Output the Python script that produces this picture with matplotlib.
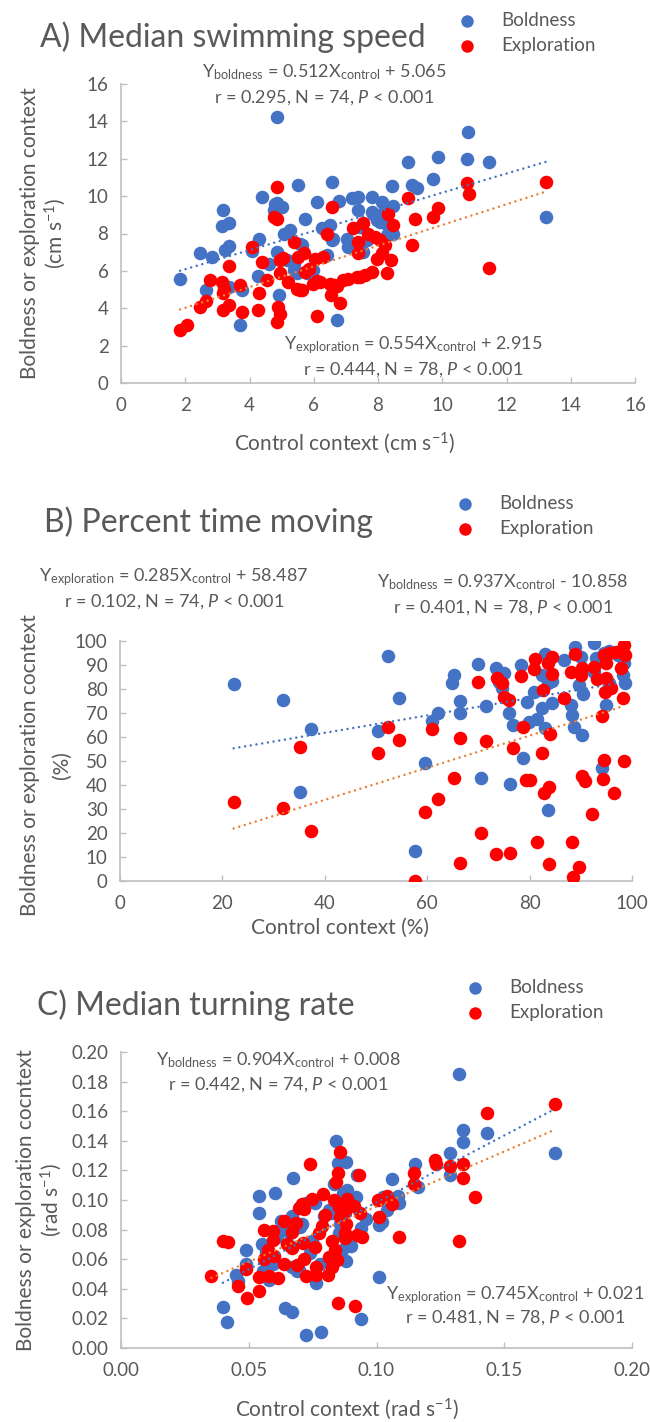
import matplotlib
matplotlib.use("Agg")
import matplotlib.pyplot as plt
import numpy as np

plt.rcParams['font.family'] = ['Lato', 'DejaVu Sans']
plt.rcParams['font.weight'] = 'normal'
plt.rcParams['mathtext.fontset'] = 'custom'
plt.rcParams['mathtext.rm'] = 'Lato'
plt.rcParams['mathtext.it'] = 'Lato:italic'

# ---------------- Panel A data: median swimming speed (cm s-1) ----------------
A_bold_x = [1.84, 2.47, 2.83, 2.65, 3.19, 3.14, 3.35, 3.24, 3.35, 3.35, 3.71, 3.76, 4.09, 4.29, 4.25,
            4.38, 4.62, 4.85, 4.80, 5.00, 4.75, 4.85, 4.92, 5.06, 5.26, 5.16, 5.37, 5.47, 5.50, 5.63,
            5.73, 5.99, 6.09, 6.25, 6.51, 6.58, 6.61, 6.72, 6.79, 6.40, 7.03, 7.08, 7.18, 7.39, 7.39,
            7.54, 7.65, 7.80, 7.80, 7.96, 8.11, 8.22, 8.27, 8.43, 8.48, 8.94, 9.05, 9.20, 9.72, 9.88,
            10.76, 10.81, 11.46, 13.24, 7.44, 8.16, 5.58, 5.78, 6.56, 7.85, 4.85, 8.06, 5.37, 8.48]
A_bold_y = [5.55, 6.96, 6.75, 4.96, 9.25, 8.41, 8.54, 7.11, 7.32, 5.14, 3.13, 4.96, 7.07, 7.70, 5.71,
            9.93, 6.36, 14.25, 9.57, 9.43, 9.25, 7.02, 4.73, 8.00, 8.18, 6.57, 6.39, 5.86, 10.59, 7.38,
            8.77, 6.04, 9.71, 8.27, 8.45, 10.77, 7.70, 3.36, 9.75, 6.84, 7.70, 7.29, 9.88, 9.93, 9.25,
            7.02, 7.64, 9.93, 9.16, 8.71, 9.70, 8.54, 7.91, 10.54, 9.48, 11.84, 10.59, 10.45, 10.89, 12.07,
            11.98, 13.43, 11.84, 8.89, 8.36, 9.09, 7.46, 5.86, 7.64, 9.07, 9.61, 8.63, 6.04, 8.00]
A_expl_x = [1.84, 2.07, 2.47, 2.65, 2.78, 3.14, 3.19, 3.21, 3.19, 3.35, 3.35, 3.71, 3.76, 4.09, 4.29,
            4.28, 4.38, 4.56, 4.75, 4.85, 4.85, 4.90, 4.85, 4.95, 4.95, 5.04, 4.95, 5.21, 5.37, 5.47,
            5.52, 5.63, 5.70, 5.73, 5.99, 6.04, 6.09, 6.20, 6.30, 6.40, 6.51, 6.53, 6.58, 6.72, 6.82,
            6.92, 7.08, 7.23, 7.34, 7.39, 7.39, 7.54, 7.70, 7.80, 7.91, 7.96, 8.11, 8.22, 8.27, 8.32,
            8.42, 8.48, 8.94, 9.05, 9.15, 9.72, 9.88, 10.76, 10.83, 11.46, 13.24, 8.06, 7.44, 5.58,
            6.62, 7.60, 6.10, 5.85]
A_expl_y = [2.82, 3.09, 4.07, 4.39, 5.50, 5.41, 4.79, 5.05, 3.89, 6.25, 4.16, 5.23, 3.80, 7.29, 4.79,
            3.93, 6.48, 5.50, 8.89, 10.50, 8.80, 4.07, 3.27, 3.71, 6.57, 6.71, 5.86, 5.41, 7.55, 5.05,
            6.75, 4.96, 6.96, 5.95, 5.32, 6.66, 3.57, 5.41, 6.75, 7.96, 5.32, 4.70, 9.43, 5.18, 4.29,
            5.50, 5.59, 8.27, 5.68, 7.55, 6.96, 8.54, 8.00, 5.95, 7.82, 6.61, 6.93, 7.38, 5.86, 9.04,
            6.57, 8.45, 9.88, 7.38, 8.77, 8.89, 9.34, 10.71, 10.09, 6.18, 10.77, 7.64, 5.68, 4.96,
            5.25, 5.80, 5.45, 6.10]

# ---------------- Panel B data: percent time moving (%) ----------------
B_bold_x = [22.2, 31.8, 37.3, 35.2, 52.3, 54.5, 50.3, 59.6, 57.6, 61.0, 62.2, 65.3, 64.9, 66.5, 66.5,
            70.0, 70.6, 71.5, 73.5, 74.0, 75.0, 74.7, 75.9, 76.7, 76.2, 78.3, 78.8, 79.5, 79.8, 80.8,
            81.5, 82.5, 82.4, 83.1, 83.6, 84.3, 83.6, 83.1, 84.4, 86.7, 88.0, 88.2, 88.7, 88.9, 90.1,
            89.6, 90.4, 90.3, 92.5, 93.0, 94.5, 95.6, 94.9, 94.2, 98.5, 98.3, 98.6, 97.3, 92.5, 95.6]
B_bold_y = [82.1, 75.3, 63.2, 37.2, 93.9, 76.4, 62.5, 49.2, 12.5, 66.8, 70.1, 85.8, 82.4, 75.1, 69.9,
            90.3, 43.1, 73.1, 88.9, 83.1, 86.5, 80.3, 70.1, 65.0, 40.3, 90.0, 51.1, 74.7, 66.1, 78.9,
            67.4, 72.2, 85.8, 94.4, 82.6, 74.0, 29.6, 63.6, 83.3, 92.1, 73.3, 69.2, 64.3, 97.6, 93.5,
            81.7, 77.8, 60.8, 99.3, 93.1, 94.9, 95.8, 73.3, 46.9, 90.7, 85.8, 82.4, 94.2, 87.2, 82.4]
B_expl_x = [22.2, 31.8, 35.2, 37.3, 50.3, 52.3, 54.5, 57.6, 59.6, 61.0, 62.2, 65.3, 66.5, 66.5, 70.0,
            70.6, 71.5, 73.5, 73.7, 74.7, 75.0, 75.9, 76.2, 76.7, 78.3, 78.8, 79.3, 80.0, 80.8, 81.0,
            81.4, 82.4, 82.6, 82.8, 83.7, 83.7, 83.6, 84.3, 84.3, 83.9, 86.7, 88.0, 88.2, 88.5, 88.9,
            89.7, 90.1, 90.3, 90.3, 90.8, 92.1, 92.5, 93.2, 94.2, 94.5, 94.5, 94.4, 94.7, 94.9, 94.9,
            95.9, 96.4, 96.9, 97.9, 98.2, 98.5, 98.5, 98.6, 95.6]
B_expl_y = [33.1, 30.6, 56.0, 20.8, 53.5, 64.3, 58.8, 0.0, 28.6, 63.3, 34.0, 42.8, 7.6, 59.7, 82.8,
            19.9, 58.5, 11.3, 84.4, 82.4, 76.8, 75.4, 11.8, 55.3, 85.4, 64.0, 42.1, 42.1, 88.2, 92.5,
            16.1, 53.2, 79.6, 36.5, 39.0, 7.1, 90.7, 93.2, 86.3, 61.1, 76.1, 86.9, 16.4, 1.5, 94.6,
            6.0, 85.8, 88.6, 43.9, 41.7, 27.8, 89.3, 84.2, 68.8, 94.2, 50.4, 42.5, 78.6, 84.4, 90.7,
            80.3, 36.5, 95.6, 88.6, 76.1, 50.0, 98.3, 94.2, 94.9]

# ---------------- Panel C data: median turning rate (rad s-1) ----------------
C_bold_x = [0.1323, 0.170, 0.1433, 0.134, 0.1338, 0.1286, 0.1286, 0.115, 0.1163, 0.106, 0.109, 0.1027,
            0.104, 0.1008, 0.1008, 0.0842, 0.085, 0.088, 0.0924, 0.0885, 0.0920, 0.0833, 0.0675, 0.0602,
            0.0541, 0.0539, 0.0671, 0.071, 0.0749, 0.0794, 0.0813, 0.0852, 0.0865, 0.088, 0.094, 0.049,
            0.049, 0.0457, 0.0567, 0.0593, 0.058, 0.0671, 0.0697, 0.0764, 0.0399, 0.0414, 0.0641, 0.0671,
            0.0725, 0.0781, 0.0939, 0.0723, 0.076, 0.0826, 0.0858, 0.1083, 0.0625, 0.0660, 0.0700,
            0.0660, 0.0550, 0.0580, 0.0740, 0.0450, 0.0610, 0.0640, 0.0900, 0.0700, 0.0780, 0.0690,
            0.0555, 0.0870, 0.0960, 0.1020]
C_bold_y = [0.185, 0.132, 0.145, 0.147, 0.139, 0.1315, 0.117, 0.124, 0.109, 0.114, 0.098, 0.102,
            0.093, 0.083, 0.048, 0.140, 0.125, 0.126, 0.117, 0.107, 0.102, 0.111, 0.115, 0.105,
            0.103, 0.091, 0.089, 0.084, 0.072, 0.089, 0.093, 0.0775, 0.066, 0.059, 0.081, 0.066,
            0.057, 0.045, 0.065, 0.057, 0.046, 0.055, 0.053, 0.044, 0.028, 0.0175, 0.027, 0.024,
            0.009, 0.011, 0.0195, 0.098, 0.098, 0.091, 0.084, 0.103, 0.086, 0.078, 0.082,
            0.069, 0.070, 0.062, 0.064, 0.049, 0.075, 0.080, 0.069, 0.095, 0.057, 0.052,
            0.052, 0.105, 0.087, 0.085]
C_expl_x = [0.170, 0.1433, 0.1228, 0.1234, 0.1286, 0.134, 0.1338, 0.1386, 0.1323, 0.1148, 0.1148, 0.1088,
            0.1005, 0.104, 0.106, 0.1008, 0.0937, 0.093, 0.0924, 0.0943, 0.0885, 0.0878, 0.0878, 0.0878,
            0.0859, 0.085, 0.0842, 0.0833, 0.0826, 0.0839, 0.0846, 0.0826, 0.0811, 0.085, 0.0914, 0.0738,
            0.079, 0.0749, 0.071, 0.0717, 0.0639, 0.0684, 0.0668, 0.0785, 0.0775, 0.0712, 0.0671, 0.0561,
            0.0593, 0.0593, 0.0574, 0.0639, 0.0717, 0.0723, 0.0762, 0.0764, 0.0539, 0.058, 0.0613,
            0.049, 0.0457, 0.0493, 0.0541, 0.0354, 0.0399, 0.0418, 0.0852, 0.0859, 0.0813, 0.0697,
            0.0650, 0.0600, 0.0760, 0.0800, 0.0560, 0.0690, 0.0880, 0.0910]
C_expl_y = [0.1647, 0.159, 0.127, 0.124, 0.123, 0.124, 0.1146, 0.102, 0.0726, 0.118, 0.111, 0.075,
            0.100, 0.1027, 0.097, 0.0888, 0.0915, 0.117, 0.0764, 0.075, 0.101, 0.092, 0.0775, 0.0746,
            0.1326, 0.118, 0.112, 0.100, 0.072, 0.0663, 0.0596, 0.055, 0.0494, 0.0303, 0.0285, 0.124,
            0.1038, 0.101, 0.0973, 0.0937, 0.086, 0.0843, 0.0787, 0.0827, 0.0775, 0.0712, 0.0674, 0.0798,
            0.0793, 0.073, 0.0663, 0.0569, 0.060, 0.0488, 0.0546, 0.0494, 0.0479, 0.0488, 0.0472,
            0.0533, 0.042, 0.0337, 0.0387, 0.0488, 0.0726, 0.0715, 0.0955, 0.0888, 0.0618, 0.0944,
            0.0700, 0.0620, 0.0680, 0.0900, 0.0600, 0.0560, 0.0840, 0.0960]

# trend line coefficients (slope, intercept): [boldness, exploration]
A_trend = [(0.512, 5.065), (0.554, 2.915)]
B_trend = [(0.362, 47.26), (0.669, 7.05)]
C_trend = [(0.904, 0.008), (0.745, 0.021)]

# annotation texts
A_eq_bold = [r"Y$_{\mathrm{boldness}}$ = 0.512X$_{\mathrm{control}}$ + 5.065", r"r = 0.295, N = 74, $\mathit{P}$ < 0.001"]
A_eq_expl = [r"Y$_{\mathrm{exploration}}$ = 0.554X$_{\mathrm{control}}$ + 2.915", r"r = 0.444, N = 78, $\mathit{P}$ < 0.001"]
B_eq_expl = [r"Y$_{\mathrm{exploration}}$ = 0.285X$_{\mathrm{control}}$ + 58.487", r"r = 0.102, N = 74, $\mathit{P}$ < 0.001"]
B_eq_bold = [r"Y$_{\mathrm{boldness}}$ = 0.937X$_{\mathrm{control}}$ - 10.858", r"r = 0.401, N = 78, $\mathit{P}$ < 0.001"]
C_eq_bold = [r"Y$_{\mathrm{boldness}}$ = 0.904X$_{\mathrm{control}}$ + 0.008", r"r = 0.442, N = 74, $\mathit{P}$ < 0.001"]
C_eq_expl = [r"Y$_{\mathrm{exploration}}$ = 0.745X$_{\mathrm{control}}$ + 0.021", r"r = 0.481, N = 78, $\mathit{P}$ < 0.001"]

BLUE = '#4472C4'
RED = '#FF0000'
ORANGE = '#ED7D31'
TXT = '#595959'
AXC = '#BFBFBF'

W, H = 650, 1422
fig = plt.figure(figsize=(W / 100, H / 100), dpi=100)


def rect(x0, x1, ytop, ybot):
    return [x0 / W, 1 - ybot / H, (x1 - x0) / W, (ybot - ytop) / H]


def ftext(x, y, s, **kw):
    kw.setdefault('color', TXT)
    kw.setdefault('va', 'center')
    fig.text(x / W, 1 - y / H, s, **kw)


def panel(r, bx, by, ex, ey, trends, xlim, ylim, xticks, yticks, fmt, title, title_xy,
          leg_xy, xlabel, xlabel_xy, ylab1, ylab2, ylab_xs, ylab_y):
    ax = fig.add_axes(rect(*r))
    ax.scatter(bx, by, s=95, color=BLUE, linewidths=0, label='Boldness', zorder=2)
    ax.scatter(ex, ey, s=95, color=RED, linewidths=0, label='Exploration', zorder=3)
    for (m, b), xs, col in zip(trends, (bx, ex), (BLUE, ORANGE)):
        xx = np.array([min(xs), max(xs)])
        ax.plot(xx, m * xx + b, color=col, lw=1.8, linestyle=(0, (0.01, 2.3)),
                dash_capstyle='round', zorder=4)
    ax.set_xlim(*xlim)
    ax.set_ylim(*ylim)
    ax.set_xticks(xticks)
    ax.set_yticks(yticks)
    ax.set_xticklabels([fmt.format(v) for v in xticks])
    ax.set_yticklabels([fmt.format(v) for v in yticks])
    for s in ('top', 'right'):
        ax.spines[s].set_visible(False)
    for s in ('left', 'bottom'):
        ax.spines[s].set_color(AXC)
        ax.spines[s].set_linewidth(1.2)
    ax.tick_params(direction='in', length=4, color=AXC, labelcolor=TXT, labelsize=13.5, width=1)
    ax.tick_params(axis='x', pad=10)
    ax.tick_params(axis='y', pad=9)
    ax.set_facecolor('none')
    ftext(title_xy[0], title_xy[1], title, fontsize=23, ha='left')
    lg = ax.legend(loc='center left', bbox_to_anchor=(leg_xy[0] / W, 1 - leg_xy[1] / H),
                   bbox_transform=fig.transFigure, frameon=False, fontsize=13.5,
                   markerscale=0.92, handlelength=1.0, handletextpad=1.3, borderpad=0,
                   borderaxespad=0, labelspacing=0.45)
    for t in lg.get_texts():
        t.set_color(TXT)
    ftext(xlabel_xy[0], xlabel_xy[1], xlabel, fontsize=15, ha='center')
    ftext(ylab_xs[0], ylab_y, ylab1, fontsize=15, ha='center', rotation=90)
    ftext(ylab_xs[1], ylab_y, ylab2, fontsize=15, ha='center', rotation=90)
    return ax


EQ_FS = 13

# Panel A
panel((121, 635, 84, 383), A_bold_x, A_bold_y, A_expl_x, A_expl_y, A_trend,
      (0, 16), (0, 16), list(range(0, 17, 2)), list(range(0, 17, 2)), '{:d}',
      'A) Median swimming speed', (40, 37), (458, 33),
      r'Control context (cm s$^{-1}$)', (345, 443),
      'Boldness or exploration context', r'(cm s$^{-1}$)', (30, 55), 233)
for i, t in enumerate(A_eq_bold):
    ftext(324, 72 + 26 * i, t, fontsize=EQ_FS, ha='center')
for i, t in enumerate(A_eq_expl):
    ftext(413, 345 + 25 * i, t, fontsize=EQ_FS, ha='center')

# Panel B
panel((120, 632, 641, 881), B_bold_x, B_bold_y, B_expl_x, B_expl_y, B_trend,
      (0, 100), (0, 100), list(range(0, 101, 20)), list(range(0, 101, 10)), '{:d}',
      'B) Percent time moving', (44, 522), (456, 516),
      'Control context (%)', (340, 928),
      'Boldness or exploration cocntext', '(%)', (30, 62), 765)
for i, t in enumerate(B_eq_expl):
    ftext(174, 577 + 25 * i, t, fontsize=EQ_FS, ha='center')
for i, t in enumerate(B_eq_bold):
    ftext(503, 582 + 26 * i, t, fontsize=EQ_FS, ha='center')

# Panel C
cx = [0.0, 0.05, 0.10, 0.15, 0.20]
cy = [round(0.02 * i, 2) for i in range(11)]
panel((121, 632, 1052, 1348), C_bold_x, C_bold_y, C_expl_x, C_expl_y, C_trend,
      (0, 0.20), (0, 0.20), cx, cy, '{:.2f}',
      'C) Median turning rate', (37, 1005), (466, 1000),
      r'Control context (rad s$^{-1}$)', (347, 1409),
      'Boldness or exploration cocntext', r'(rad s$^{-1}$)', (26, 51), 1200)
for i, t in enumerate(C_eq_bold):
    ftext(278, 1060 + 25 * i, t, fontsize=EQ_FS, ha='center')
for i, t in enumerate(C_eq_expl):
    ftext(515, 1295 + 23 * i, t, fontsize=EQ_FS, ha='center')

fig.savefig('out.png', dpi=100, facecolor='white')
